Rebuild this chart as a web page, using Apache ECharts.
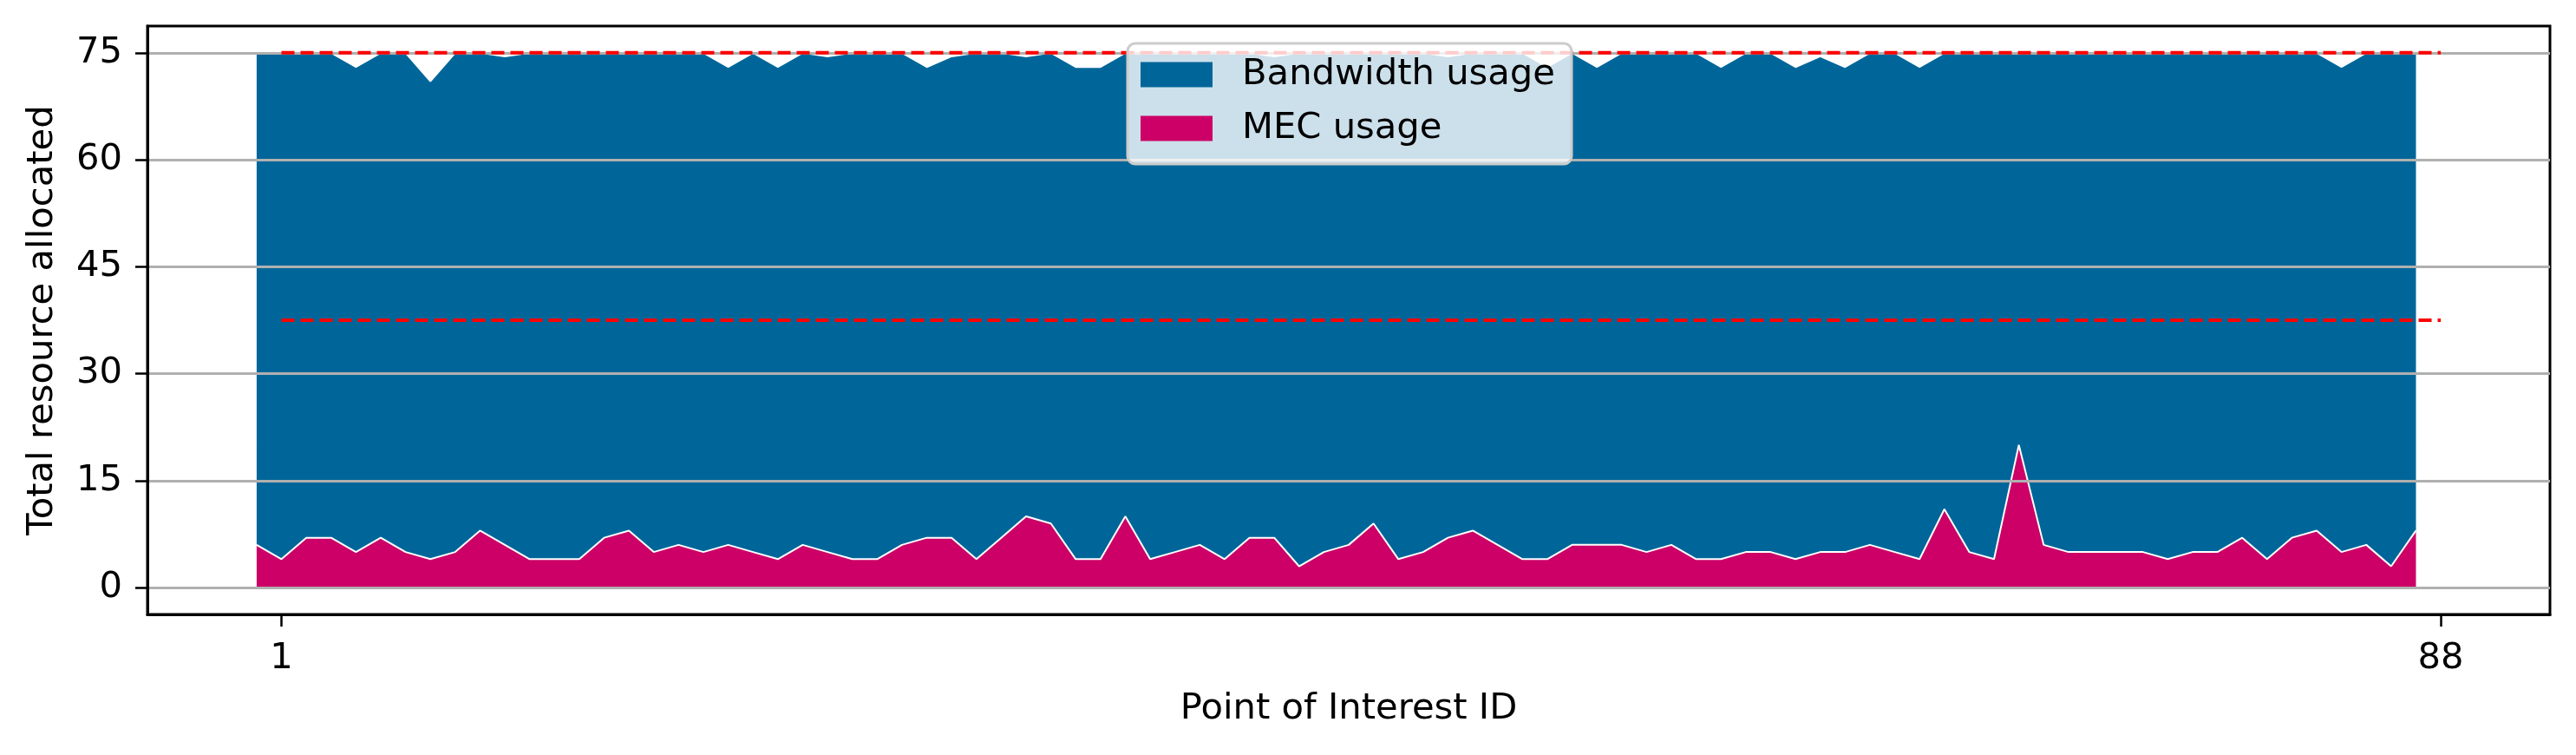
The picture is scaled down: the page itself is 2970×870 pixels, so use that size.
<!DOCTYPE html>
<html>
<head>
<meta charset="utf-8">
<script src="https://cdn.jsdelivr.net/npm/echarts@6/dist/echarts.min.js"></script>
<style>
html,body{margin:0;padding:0;background:#fff;}
#chart{width:2970px;height:870px;}
</style>
</head>
<body>
<div id="chart"></div>
<script>
// ---- data (Point of Interest index 0..87) ----
const mecUsage = [
  6,4,7,7,5,7,5,4,5,8,6,4,4,4,7,8,5,6,5,6,5,4,
  6,5,4,4,6,7,7,4,7,10,9,4,4,10,4,5,6,4,7,7,3,5,
  6,9,4,5,7,8,6,4,4,6,6,6,5,6,4,4,5,5,4,5,5,6,
  5,4,11,5,4,20,6,5,5,5,5,4,5,5,7,4,7,8,5,6,3,8
];
const bandwidthUsage = [
  69,71,68,68,68,68,70,67,70,67,68.5,71,71,71,68,67,70,69,70,67,70,69,
  69,69.5,71,71,69,66,67.5,71,68,64.5,66,69,69,65,71,70,69,71,68,67.5,72,70,
  69,66,71,70,67.5,67,69,71,69,69,67,69,70,69,71,69,70,70,69,69.5,68,69,
  70,69,64,70,71,55,69,70,70,70,70,71,70,70,68,71,68,67,68,69,72,67
];
const xTickValues = [1, 88];
const yTickValues = [0, 15, 30, 45, 60, 75];
const refLineX = [1, 88];
const refLineLevels = [75, 37.5];
const seriesNames = ['Bandwidth usage', 'MEC usage'];

const FONT = 'DejaVu Sans';
const FS = 41.7;

const chart = echarts.init(document.getElementById('chart'), null, {renderer: 'canvas'});

const refSeries = refLineLevels.map(level => ({
  type: 'line',
  data: refLineX.map(x => [x, level]),
  symbol: 'none',
  silent: true,
  z: 4,
  lineStyle: {color: '#ff0000', width: 4, type: [15, 7]},
  legendHoverLink: false
}));

const option = {
  animation: false,
  backgroundColor: '#ffffff',
  textStyle: {fontFamily: FONT},
  grid: {
    left: 170, right: 30, top: 30, bottom: 162,
    show: true, borderColor: '#000000', borderWidth: 3, backgroundColor: 'transparent'
  },
  legend: {
    data: seriesNames,
    orient: 'vertical',
    left: 1300, top: 50,
    itemWidth: 83, itemHeight: 29, itemGap: 20,
    icon: 'rect',
    padding: [15, 19, 20, 15],
    backgroundColor: 'rgba(255,255,255,0.8)',
    borderColor: '#cccccc', borderWidth: 3, borderRadius: 9,
    z: 6,
    formatter: name => '{t|' + name + '}',
    textStyle: {
      fontFamily: FONT, fontSize: FS, color: '#000',
      rich: {t: {fontFamily: FONT, fontSize: FS, color: '#000', lineHeight: 42, padding: [0, 0, 0, 29]}}
    }
  },
  xAxis: {
    type: 'value',
    min: -4.4, max: 92.4,
    name: 'Point of Interest ID',
    nameLocation: 'middle',
    nameGap: 88,
    nameTextStyle: {fontFamily: FONT, fontSize: FS, color: '#000'},
    axisLine: {show: true, onZero: false, lineStyle: {color: '#000', width: 3}},
    axisTick: {show: true, customValues: xTickValues, length: 14, lineStyle: {color: '#000', width: 2.5}},
    axisLabel: {customValues: xTickValues, margin: 30, fontFamily: FONT, fontSize: FS, color: '#000'},
    splitLine: {show: false}
  },
  yAxis: {
    type: 'value',
    min: -3.75, max: 78.75,
    z: 3,
    name: 'Total resource allocated',
    nameLocation: 'middle',
    nameGap: 100,
    nameTextStyle: {fontFamily: FONT, fontSize: FS, color: '#000'},
    axisLine: {show: true, onZero: false, lineStyle: {color: '#000', width: 3}},
    axisTick: {show: true, customValues: yTickValues, length: 14, lineStyle: {color: '#000', width: 2.5}},
    axisLabel: {customValues: yTickValues, margin: 29, fontFamily: FONT, fontSize: FS, color: '#000'},
    splitLine: {show: true, lineStyle: {color: '#b0b0b0', width: 3}}
  },
  series: [
    {
      name: seriesNames[1],
      type: 'line',
      stack: 'usage',
      // value first so the stack is applied on the y dimension
      data: mecUsage.map((v, i) => [v, i]),
      encode: {x: 1, y: 0},
      symbol: 'none',
      z: 2,
      itemStyle: {color: '#cc0066'},
      lineStyle: {color: '#ffffff', width: 2},
      areaStyle: {color: '#cc0066', opacity: 1}
    },
    {
      name: seriesNames[0],
      type: 'line',
      stack: 'usage',
      data: bandwidthUsage.map((v, i) => [v, i]),
      encode: {x: 1, y: 0},
      symbol: 'none',
      z: 1,
      itemStyle: {color: '#006699'},
      lineStyle: {color: '#ffffff', width: 2},
      areaStyle: {color: '#006699', opacity: 1}
    },
    ...refSeries
  ]
};
chart.setOption(option);
</script>
</body>
</html>
